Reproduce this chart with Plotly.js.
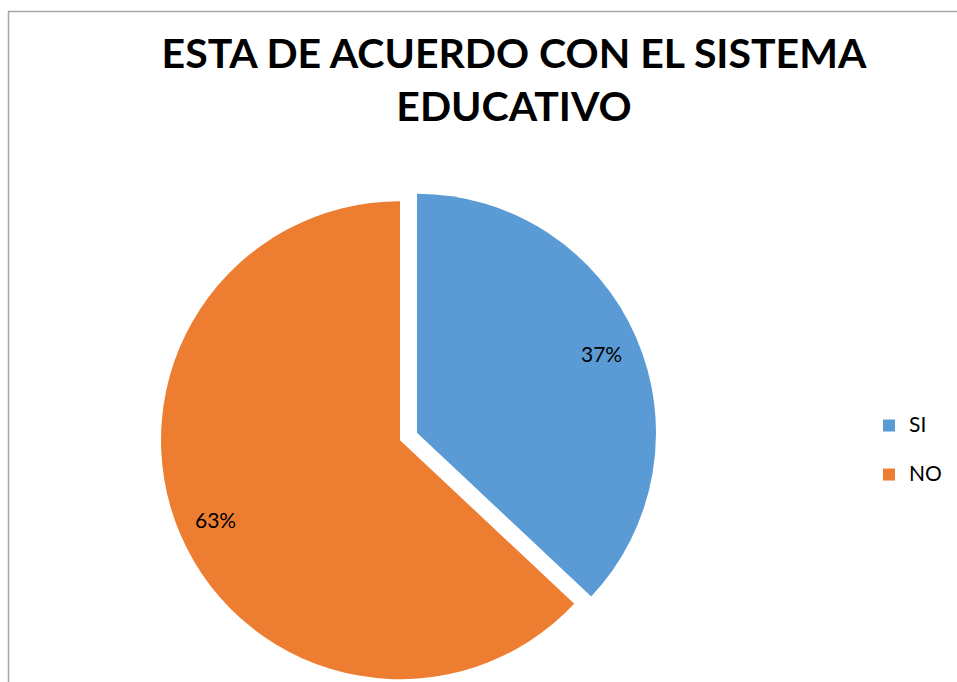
<!DOCTYPE html>
<html>
<head>
<meta charset="utf-8">
<script src="https://cdn.plot.ly/plotly-3.0.1.min.js"></script>
<style>
html, body { margin: 0; padding: 0; overflow: hidden; background: #fff; }
#chart { width: 957px; height: 700px; }
</style>
</head>
<body>
<div id="chart"></div>
<script>
// ---- data ----
var categories = ["SI", "NO"];
var values = [37, 63];
var sliceColors = ["#5B9BD5", "#ED7D31"];
var chartTitle = "ESTA DE ACUERDO CON EL SISTEMA<br>EDUCATIVO";

// ---- layout helpers (pixels -> paper fractions) ----
var W = 957, H = 700;
var cx = 408.5, cy = 436.5, r = 239, pull = 0.0387;
var half = r * (1 + pull);
var labelFrac = 0.84;

var legendLabels = categories.map(function (c) {
  return '<span style="font-size:21px;baseline-shift:7px">' + c + '</span>';
});

var trace = {
  type: "pie",
  labels: legendLabels,
  values: values,
  sort: false,
  direction: "clockwise",
  rotation: 0,
  pull: [pull, pull],
  marker: { colors: sliceColors, line: { width: 0 } },
  textinfo: "none",
  hoverinfo: "skip",
  domain: {
    x: [(cx - half) / W, (cx + half) / W],
    y: [(H - cy - half) / H, (H - cy + half) / H]
  }
};

// percentage labels placed along each slice's mid-angle (computed from the values)
var total = values.reduce(function (a, b) { return a + b; }, 0);
var annotations = [];
var cum = 0;
values.forEach(function (v, i) {
  var mid = (cum + v / 2) / total * 2 * Math.PI;
  cum += v;
  var sx = Math.sin(mid), sy = -Math.cos(mid);
  var pcx = cx + pull * r * sx, pcy = cy + pull * r * sy;
  var px = pcx + labelFrac * r * sx, py = pcy + labelFrac * r * sy;
  annotations.push({
    xref: "paper", yref: "paper",
    x: px / W, y: (H - py) / H,
    xanchor: "center", yanchor: "middle",
    text: Math.round(v / total * 100) + "%",
    showarrow: false,
    font: { family: "Lato, sans-serif", size: 21, color: "#000000" }
  });
});

var layout = {
  width: W,
  height: H,
  margin: { l: 0, r: 0, t: 0, b: 0 },
  paper_bgcolor: "#ffffff",
  plot_bgcolor: "#ffffff",
  font: { family: "Lato, sans-serif", color: "#000000" },
  title: {
    text: chartTitle,
    font: { family: "Lato, sans-serif", size: 41, weight: "bold", color: "#000000" },
    x: 514 / W,
    xanchor: "center",
    xref: "paper",
    y: 1 - 68 / H,
    yanchor: "top",
    yref: "container"
  },
  showlegend: true,
  legend: {
    x: 869 / W,
    xanchor: "left",
    y: (H - 450.5) / H,
    yanchor: "middle",
    font: { family: "Lato, sans-serif", size: 35.4, color: "#000000" },
    bgcolor: "rgba(0,0,0,0)",
    borderwidth: 0
  },
  annotations: annotations,
  shapes: [{
    type: "rect",
    xref: "paper", yref: "paper",
    x0: 8.5 / W, x1: 1.05,
    y0: -0.05, y1: 1 - 11.5 / H,
    line: { color: "#A6A6A6", width: 1.5 },
    fillcolor: "rgba(0,0,0,0)",
    layer: "below"
  }]
};

Plotly.newPlot("chart", [trace], layout, { displayModeBar: false, staticPlot: true });
</script>
</body>
</html>
